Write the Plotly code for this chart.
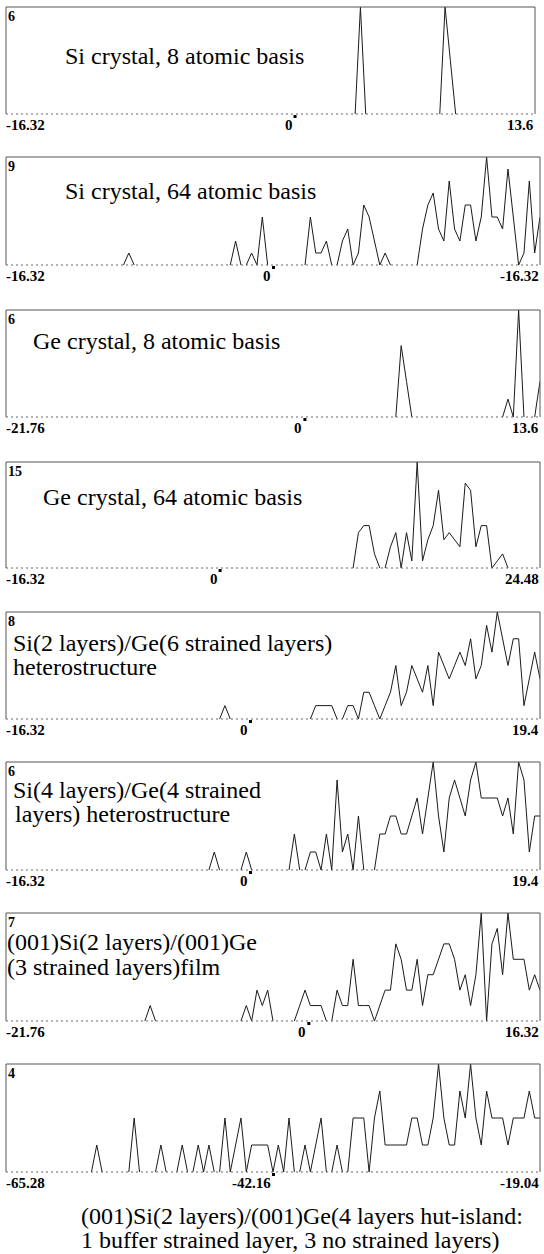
import numpy as np
import plotly.graph_objects as go

W, H = 544, 1254

# ---------------- data ----------------
y_max = [6, 9, 6, 15, 8, 6, 7, 4]
x_min = [-16.32, -16.32, -21.76, -16.32, -16.32, -16.32, -21.76, -65.28]
x_max = [13.6, 16.32, 13.6, 24.48, 19.4, 19.4, 16.32, -19.04]
min_labels = ["-16.32", "-16.32", "-21.76", "-16.32", "-16.32", "-16.32", "-21.76", "-65.28"]
max_labels = ["13.6", "-16.32", "13.6", "24.48", "19.4", "19.4", "16.32", "-19.04"]
zero_pos = [0, 0, -2.0, 0, 0, 0, -0.2, -42.16]
zero_labels = ["0", "0", "0", "0", "0", "0", "0", "-42.16"]

titles = [
    ["Si crystal, 8 atomic basis"],
    ["Si crystal, 64 atomic basis"],
    ["Ge crystal, 8 atomic basis"],
    ["Ge crystal, 64 atomic basis"],
    ["Si(2 layers)/Ge(6 strained layers)", "heterostructure"],
    ["Si(4 layers)/Ge(4 strained", "layers) heterostructure"],
    ["(001)Si(2 layers)/(001)Ge", "(3 strained layers)film"],
    [],
]
caption = ["(001)Si(2 layers)/(001)Ge(4 layers hut-island:",
           "1 buffer strained layer, 3 no strained layers)"]

y1 = ([0] * 60 + [0, 0, 0, 0, 0, 0, 0, 6, 0, 0] + [0] * 10 +
      [0, 0, 0, 6, 3, 0, 0, 0, 0, 0] + [0] * 10 + [0])
y2 = ([0] * 20 + [0, 0, 0, 1, 0, 0, 0, 0, 0, 0] + [0] * 10 +
      [0, 0, 0, 2, 0, 0, 1, 0, 4, 0] +
      [0, 0, 0, 0, 0, 0, 0, 4, 1, 1] +
      [2, 0, 0, 2, 3, 0, 1, 5, 4, 2] +
      [0, 1, 0, 0, 0, 0, 0, 0, 3, 5] +
      [6, 3, 2, 7, 3, 2, 5, 5, 2, 4] +
      [9, 4, 4, 3, 8, 4, 0, 1, 7, 1] + [4])
y3 = ([0] * 70 + [0, 0, 0, 0, 4, 2, 0, 0, 0, 0] + [0] * 10 +
      [0, 0, 0, 0, 1, 0, 6, 0, 0, 0] + [2])
y4 = ([0] * 60 + [0, 0, 0, 0, 0, 0, 5, 6, 6, 2] +
      [0, 0, 3, 5, 0, 5, 1, 15, 1, 4] +
      [6, 11, 4, 5, 4, 3, 12, 11, 3, 6] +
      [6, 0, 1, 2, 0, 0, 0, 0, 0, 0] + [0])
y5 = ([0] * 40 + [0, 1, 0, 0, 0, 0, 0, 0, 0, 0] +
      [0, 0, 0, 0, 0, 0, 0, 0, 1, 1] +
      [1, 1, 0, 0, 1, 1, 0, 2, 2, 1] +
      [0, 1, 2, 4, 1, 2, 4, 3, 2, 4] +
      [1, 5, 4, 3, 4, 5, 4, 6, 3, 4] +
      [7, 5, 8, 6, 4, 6, 6, 1, 3, 5] + [3])
y6 = ([0] * 30 + [0, 0, 0, 0, 0, 0, 0, 0, 0, 1] +
      [0, 0, 0, 0, 0, 1, 0, 0, 0, 0] +
      [0, 0, 0, 0, 2, 0, 0, 1, 1, 0] +
      [2, 0, 5, 1, 2, 0, 3, 0, 0, 0] +
      [2, 2, 3, 3, 2, 2, 3, 4, 2, 4] +
      [6, 3, 1, 4, 5, 4, 3, 5, 6, 4] +
      [4, 4, 4, 3, 4, 2, 6, 5, 1, 3] + [3])
y7 = ([0] * 20 + [0, 0, 0, 0, 0, 0, 0, 1, 0, 0] + [0] * 10 +
      [0, 0, 0, 0, 0, 1, 0, 2, 1, 2] +
      [0, 0, 0, 0, 0, 1, 2, 1, 1, 1] +
      [0, 0, 2, 1, 1, 4, 1, 1, 1, 0] +
      [1, 2, 2, 5, 4, 2, 2, 4, 1, 3] +
      [3, 4, 5, 5, 4, 2, 3, 1, 3, 7] +
      [0, 5, 6, 3, 7, 4, 4, 4, 2, 3] + [2])
y8 = ([0] * 10 + [0, 0, 0, 0, 0, 0, 0, 1, 0, 0] +
      [0, 0, 0, 0, 2, 0, 0, 0, 0, 1] +
      [0, 0, 0, 1, 0, 0, 1, 0, 1, 0] +
      [0, 2, 0, 1, 2, 0, 1, 1, 1, 1] +
      [0, 1, 0, 2, 0, 0, 1, 0, 1, 2] +
      [0, 0, 1, 0, 0, 2, 2, 2, 0, 2] +
      [3, 1, 1, 1, 1, 1, 2, 2, 1, 1] +
      [2, 4, 2, 1, 1, 3, 2, 4, 2, 1] +
      [3, 2, 2, 2, 1, 2, 2, 2, 3, 2] + [2])
series = [y1, y2, y3, y4, y5, y6, y7, y8]

# ---------------- layout geometry (pixels) ----------------
tops = [7, 157, 310, 462, 612, 762, 913, 1064]
bottoms = [114, 265, 417, 568, 719, 870, 1021, 1172]
lefts = [6, 6, 6, 6, 6, 6, 6, 6]
rights = [535, 540, 540, 540, 540, 540, 540, 540]
title_x = [63, 63, 31, 41, 11, 11, 5, None]
title_y = [[56], [191], [341], [497], [643, 667], [790, 814], [942, 967], []]
title_x2 = [None, None, None, None, 11, 13, 5, None]

SERIF = "Liberation Serif"
fig = go.Figure()
shapes, annos = [], []


def segs(xv, yv):
    xs, ys = [], []
    for j in range(len(yv)):
        xs.append(xv[j])
        ys.append(yv[j])
        if j < len(yv) - 1 and yv[j] == 0 and yv[j + 1] == 0:
            xs.append(None)
            ys.append(None)
    return xs, ys


for i in range(8):
    k = "" if i == 0 else str(i + 1)
    xa, ya = "x" + k, "y" + k
    xv = np.linspace(x_min[i], x_max[i], len(series[i]))
    xs, ys = segs(list(xv), series[i])
    fig.add_trace(go.Scatter(x=xs, y=ys, mode="lines", xaxis=xa, yaxis=ya,
                             line=dict(color="#1a1a1a", width=1),
                             connectgaps=False, hoverinfo="skip"))
    ax = dict(domain=[lefts[i] / W, rights[i] / W], range=[x_min[i], x_max[i]],
              showgrid=False, zeroline=False, showticklabels=False, showline=False,
              ticks="", anchor=ya, fixedrange=True)
    ay = dict(domain=[1 - bottoms[i] / H, 1 - tops[i] / H], range=[0, y_max[i]],
              showgrid=False, zeroline=False, showticklabels=False, showline=False,
              ticks="", anchor=xa, fixedrange=True)
    fig.update_layout(**{"xaxis" + k: ax, "yaxis" + k: ay})

    xd, yd = xa + " domain", ya + " domain"
    box = dict(color="#555555", width=1)
    shapes += [
        dict(type="line", xref=xd, yref=yd, x0=0, x1=0, y0=0, y1=1, line=box),
        dict(type="line", xref=xd, yref=yd, x0=1, x1=1, y0=0, y1=1, line=box),
        dict(type="line", xref=xd, yref=yd, x0=0, x1=1, y0=1, y1=1, line=box),
        dict(type="line", xref=xd, yref=yd, x0=0, x1=1, y0=0, y1=0,
             line=dict(color="#666666", width=1, dash="2px,3px")),
        dict(type="rect", xref=xa, yref="paper", xsizemode="pixel", ysizemode="pixel",
             xanchor=zero_pos[i], yanchor=1 - bottoms[i] / H, x0=-1, x1=2, y0=-4, y1=-1,
             fillcolor="black", line=dict(width=0)),
    ]
    bold = dict(family=SERIF, size=15, color="black")
    annos += [
        dict(xref=xd, yref=yd, x=0, y=1, xanchor="left", yanchor="top", xshift=0,
             text="<b>%d</b>" % y_max[i], showarrow=False,
             font=dict(family=SERIF, size=14, color="black")),
        dict(xref=xd, yref=yd, x=0, y=0, xanchor="left", yanchor="top", xshift=-2,
             yshift=-1, text="<b>%s</b>" % min_labels[i], showarrow=False, font=bold),
        dict(xref=xd, yref=yd, x=1, y=0, xanchor="right", yanchor="top", xshift=1,
             yshift=-1, text="<b>%s</b>" % max_labels[i], showarrow=False, font=bold),
        dict(xref=xa, yref=yd, x=zero_pos[i], y=0, xanchor="right", yanchor="top",
             xshift=0, yshift=-1, text="<b>%s</b>" % zero_labels[i], showarrow=False,
             font=bold),
    ]
    for li, line in enumerate(titles[i]):
        tx = title_x[i] if li == 0 else title_x2[i]
        annos.append(dict(xref="paper", yref="paper", x=tx / W, y=1 - title_y[i][li] / H,
                          xanchor="left", yanchor="middle", text=line, showarrow=False,
                          font=dict(family=SERIF, size=24, color="black")))

for li, line in enumerate(caption):
    annos.append(dict(xref="paper", yref="paper", x=79 / W, y=1 - [1216, 1240][li] / H,
                      xanchor="left", yanchor="middle", text=line, showarrow=False,
                      font=dict(family=SERIF, size=24, color="black")))

fig.update_layout(width=W, height=H, margin=dict(l=0, r=0, t=0, b=0),
                  paper_bgcolor="white", plot_bgcolor="white", showlegend=False,
                  shapes=shapes, annotations=annos)
fig.write_html("out.html", config={"displayModeBar": False},
               post_script="document.body.style.margin='0';"
                           "document.body.style.overflow='hidden';")
